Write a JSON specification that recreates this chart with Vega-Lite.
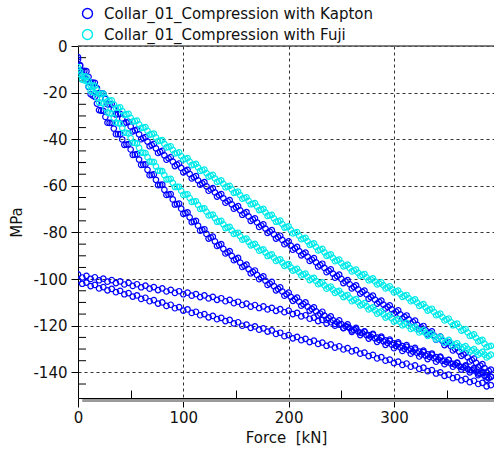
{
  "$schema": "https://vega.github.io/schema/vega-lite/v6.json",
  "width": 416,
  "height": 352,
  "autosize": {"type": "none"},
  "padding": {"left": 78, "top": 46, "right": 0, "bottom": 51},
  "background": "white",
  "config": {"view": {"stroke": null}, "font": "DejaVu Sans"},
  "datasets": {
    "kapton": [
      {"f":0,"p":-5.8},{"f":4,"p":-10.7},{"f":8,"p":-10.8},{"f":12,"p":-15.7},{"f":16,"p":-15.8},{"f":20,"p":-20.5},{"f":24,"p":-20.4},{"f":28,"p":-25.1},{"f":32,"p":-24.9},{"f":36,"p":-29.4},{"f":40,"p":-29.1},{"f":44,"p":-33.2},{"f":48,"p":-32.5},{"f":52,"p":-36.6},{"f":56,"p":-35.9},{"f":60,"p":-40.0},{"f":64,"p":-39.1},{"f":68,"p":-43.0},{"f":72,"p":-42.0},{"f":76,"p":-45.9},{"f":80,"p":-45.0},{"f":84,"p":-48.8},{"f":88,"p":-47.7},{"f":92,"p":-51.5},{"f":96,"p":-50.4},{"f":100,"p":-54.2},{"f":104,"p":-53.1},{"f":108,"p":-56.8},{"f":112,"p":-55.8},{"f":116,"p":-59.5},{"f":120,"p":-58.4},{"f":124,"p":-62.1},{"f":128,"p":-61.0},{"f":132,"p":-64.6},{"f":136,"p":-63.5},{"f":140,"p":-67.2},{"f":144,"p":-66.1},{"f":148,"p":-69.8},{"f":152,"p":-68.7},{"f":156,"p":-72.4},{"f":160,"p":-71.3},{"f":164,"p":-75.0},{"f":168,"p":-73.9},{"f":172,"p":-77.6},{"f":176,"p":-76.5},{"f":180,"p":-80.2},{"f":184,"p":-79.0},{"f":188,"p":-82.6},{"f":192,"p":-81.4},{"f":196,"p":-85.0},{"f":200,"p":-83.8},{"f":204,"p":-87.4},{"f":208,"p":-86.2},{"f":212,"p":-89.8},{"f":216,"p":-88.6},{"f":220,"p":-92.2},{"f":224,"p":-91.0},{"f":228,"p":-94.6},{"f":232,"p":-93.4},{"f":236,"p":-97.0},{"f":240,"p":-95.8},{"f":244,"p":-99.4},{"f":248,"p":-98.1},{"f":252,"p":-101.7},{"f":256,"p":-100.4},{"f":260,"p":-104.0},{"f":264,"p":-102.7},{"f":268,"p":-106.2},{"f":272,"p":-104.9},{"f":276,"p":-108.4},{"f":280,"p":-107.1},{"f":284,"p":-110.5},{"f":288,"p":-109.2},{"f":292,"p":-112.6},{"f":296,"p":-111.3},{"f":300,"p":-114.7},{"f":304,"p":-113.4},{"f":308,"p":-116.9},{"f":312,"p":-115.6},{"f":316,"p":-119.1},{"f":320,"p":-117.8},{"f":324,"p":-121.4},{"f":328,"p":-120.1},{"f":332,"p":-123.7},{"f":336,"p":-122.4},{"f":340,"p":-126.0},{"f":344,"p":-124.7},{"f":348,"p":-128.3},{"f":352,"p":-127.0},{"f":356,"p":-130.6},{"f":360,"p":-129.3},{"f":364,"p":-132.9},{"f":368,"p":-131.7},{"f":372,"p":-135.3},{"f":376,"p":-134.1},{"f":380,"p":-137.7},{"f":384,"p":-136.5},{"f":388,"p":-140.0},{"f":392,"p":-138.8},
      {"f":2,"p":-8.2},{"f":6,"p":-10.7},{"f":10,"p":-13.2},{"f":14,"p":-15.7},{"f":18,"p":-18.1},{"f":22,"p":-20.4},{"f":26,"p":-22.7},{"f":30,"p":-25.0},{"f":34,"p":-27.1},{"f":38,"p":-29.2},{"f":42,"p":-31.1},{"f":46,"p":-32.8},{"f":50,"p":-34.5},{"f":54,"p":-36.2},{"f":58,"p":-37.9},{"f":62,"p":-39.5},{"f":66,"p":-41.0},{"f":70,"p":-42.5},{"f":74,"p":-43.9},{"f":78,"p":-45.4},{"f":82,"p":-46.9},{"f":86,"p":-48.2},{"f":90,"p":-49.6},{"f":94,"p":-50.9},{"f":98,"p":-52.3},{"f":102,"p":-53.6},{"f":106,"p":-54.9},{"f":110,"p":-56.3},{"f":114,"p":-57.6},{"f":118,"p":-58.9},{"f":122,"p":-60.2},{"f":126,"p":-61.5},{"f":130,"p":-62.8},{"f":134,"p":-64.0},{"f":138,"p":-65.3},{"f":142,"p":-66.6},{"f":146,"p":-67.9},{"f":150,"p":-69.2},{"f":154,"p":-70.5},{"f":158,"p":-71.8},{"f":162,"p":-73.1},{"f":166,"p":-74.4},{"f":170,"p":-75.7},{"f":174,"p":-77.0},{"f":178,"p":-78.3},{"f":182,"p":-79.6},{"f":186,"p":-80.8},{"f":190,"p":-82.0},{"f":194,"p":-83.2},{"f":198,"p":-84.4},{"f":202,"p":-85.6},{"f":206,"p":-86.8},{"f":210,"p":-88.0},{"f":214,"p":-89.2},{"f":218,"p":-90.4},{"f":222,"p":-91.6},{"f":226,"p":-92.8},{"f":230,"p":-94.0},{"f":234,"p":-95.2},{"f":238,"p":-96.4},{"f":242,"p":-97.6},{"f":246,"p":-98.7},{"f":250,"p":-99.9},{"f":254,"p":-101.0},{"f":258,"p":-102.2},{"f":262,"p":-103.3},{"f":266,"p":-104.4},{"f":270,"p":-105.5},{"f":274,"p":-106.6},{"f":278,"p":-107.7},{"f":282,"p":-108.8},{"f":286,"p":-109.8},{"f":290,"p":-110.9},{"f":294,"p":-111.9},{"f":298,"p":-113.0},{"f":302,"p":-114.0},{"f":306,"p":-115.1},{"f":310,"p":-116.2},{"f":314,"p":-117.3},{"f":318,"p":-118.4},{"f":322,"p":-119.6},{"f":326,"p":-120.7},{"f":330,"p":-121.9},{"f":334,"p":-123.0},{"f":338,"p":-124.2},{"f":342,"p":-125.3},{"f":346,"p":-126.5},{"f":350,"p":-127.6},{"f":354,"p":-128.8},{"f":358,"p":-129.9},{"f":362,"p":-131.1},{"f":366,"p":-132.3},{"f":370,"p":-133.5},{"f":374,"p":-134.7},{"f":378,"p":-135.9},{"f":382,"p":-137.1},{"f":386,"p":-138.2},{"f":390,"p":-139.4},
      {"f":0,"p":-4.8},{"f":4,"p":-12.2},{"f":8,"p":-14.3},{"f":12,"p":-20.7},{"f":16,"p":-21.8},{"f":20,"p":-27.5},{"f":24,"p":-27.8},{"f":28,"p":-32.9},{"f":32,"p":-33.0},{"f":36,"p":-37.8},{"f":40,"p":-37.8},{"f":44,"p":-42.4},{"f":48,"p":-42.1},{"f":52,"p":-46.7},{"f":56,"p":-46.4},{"f":60,"p":-51.0},{"f":64,"p":-50.8},{"f":68,"p":-55.4},{"f":72,"p":-55.1},{"f":76,"p":-59.7},{"f":80,"p":-59.5},{"f":84,"p":-63.9},{"f":88,"p":-63.5},{"f":92,"p":-68.0},{"f":96,"p":-67.6},{"f":100,"p":-72.0},{"f":104,"p":-71.4},{"f":108,"p":-75.6},{"f":112,"p":-75.0},{"f":116,"p":-79.2},{"f":120,"p":-78.6},{"f":124,"p":-82.6},{"f":128,"p":-81.8},{"f":132,"p":-85.8},{"f":136,"p":-85.0},{"f":140,"p":-89.0},{"f":144,"p":-88.0},{"f":148,"p":-91.9},{"f":152,"p":-90.9},{"f":156,"p":-94.8},{"f":160,"p":-93.8},{"f":164,"p":-97.5},{"f":168,"p":-96.3},{"f":172,"p":-100.0},{"f":176,"p":-98.8},{"f":180,"p":-102.5},{"f":184,"p":-101.2},{"f":188,"p":-104.8},{"f":192,"p":-103.5},{"f":196,"p":-107.1},{"f":200,"p":-105.8},{"f":204,"p":-109.3},{"f":208,"p":-107.9},{"f":212,"p":-111.4},{"f":216,"p":-110.0},{"f":220,"p":-113.5},{"f":224,"p":-112.1},{"f":228,"p":-115.5},{"f":232,"p":-114.0},{"f":236,"p":-117.4},{"f":240,"p":-116.0},{"f":244,"p":-119.2},{"f":248,"p":-117.7},{"f":252,"p":-120.9},{"f":256,"p":-119.4},{"f":260,"p":-122.6},{"f":264,"p":-120.9},{"f":268,"p":-124.0},{"f":272,"p":-122.4},{"f":276,"p":-125.5},{"f":280,"p":-123.8},{"f":284,"p":-126.9},{"f":288,"p":-125.2},{"f":292,"p":-128.2},{"f":296,"p":-126.5},{"f":300,"p":-129.6},{"f":304,"p":-127.8},{"f":308,"p":-130.8},{"f":312,"p":-129.0},{"f":316,"p":-132.0},{"f":320,"p":-130.2},{"f":324,"p":-133.2},{"f":328,"p":-131.3},{"f":332,"p":-134.3},{"f":336,"p":-132.4},{"f":340,"p":-135.4},{"f":344,"p":-133.6},{"f":348,"p":-136.5},{"f":352,"p":-134.7},{"f":356,"p":-137.6},{"f":360,"p":-135.8},{"f":364,"p":-138.8},{"f":368,"p":-137.0},{"f":372,"p":-140.0},{"f":376,"p":-138.2},{"f":380,"p":-141.2},{"f":384,"p":-139.8},{"f":388,"p":-143.2},{"f":392,"p":-141.8},
      {"f":2,"p":-8.5},{"f":6,"p":-13.3},{"f":10,"p":-17.5},{"f":14,"p":-21.3},{"f":18,"p":-24.7},{"f":22,"p":-27.7},{"f":26,"p":-30.4},{"f":30,"p":-33.0},{"f":34,"p":-35.4},{"f":38,"p":-37.8},{"f":42,"p":-40.1},{"f":46,"p":-42.3},{"f":50,"p":-44.4},{"f":54,"p":-46.6},{"f":58,"p":-48.7},{"f":62,"p":-50.9},{"f":66,"p":-53.1},{"f":70,"p":-55.3},{"f":74,"p":-57.4},{"f":78,"p":-59.6},{"f":82,"p":-61.7},{"f":86,"p":-63.7},{"f":90,"p":-65.8},{"f":94,"p":-67.8},{"f":98,"p":-69.8},{"f":102,"p":-71.7},{"f":106,"p":-73.5},{"f":110,"p":-75.3},{"f":114,"p":-77.1},{"f":118,"p":-78.9},{"f":122,"p":-80.6},{"f":126,"p":-82.2},{"f":130,"p":-83.8},{"f":134,"p":-85.4},{"f":138,"p":-87.0},{"f":142,"p":-88.5},{"f":146,"p":-90.0},{"f":150,"p":-91.4},{"f":154,"p":-92.9},{"f":158,"p":-94.3},{"f":162,"p":-95.7},{"f":166,"p":-96.9},{"f":170,"p":-98.2},{"f":174,"p":-99.4},{"f":178,"p":-100.7},{"f":182,"p":-101.9},{"f":186,"p":-103.0},{"f":190,"p":-104.2},{"f":194,"p":-105.3},{"f":198,"p":-106.5},{"f":202,"p":-107.6},{"f":206,"p":-108.6},{"f":210,"p":-109.7},{"f":214,"p":-110.7},{"f":218,"p":-111.8},{"f":222,"p":-112.8},{"f":226,"p":-113.8},{"f":230,"p":-114.8},{"f":234,"p":-115.7},{"f":238,"p":-116.7},{"f":242,"p":-117.6},{"f":246,"p":-118.5},{"f":250,"p":-119.3},{"f":254,"p":-120.2},{"f":258,"p":-121.0},{"f":262,"p":-121.8},{"f":266,"p":-122.5},{"f":270,"p":-123.2},{"f":274,"p":-124.0},{"f":278,"p":-124.7},{"f":282,"p":-125.4},{"f":286,"p":-126.1},{"f":290,"p":-126.7},{"f":294,"p":-127.4},{"f":298,"p":-128.1},{"f":302,"p":-128.7},{"f":306,"p":-129.3},{"f":310,"p":-129.9},{"f":314,"p":-130.5},{"f":318,"p":-131.1},{"f":322,"p":-131.7},{"f":326,"p":-132.3},{"f":330,"p":-132.8},{"f":334,"p":-133.4},{"f":338,"p":-133.9},{"f":342,"p":-134.5},{"f":346,"p":-135.1},{"f":350,"p":-135.6},{"f":354,"p":-136.2},{"f":358,"p":-136.7},{"f":362,"p":-137.3},{"f":366,"p":-137.9},{"f":370,"p":-138.5},{"f":374,"p":-139.1},{"f":378,"p":-139.7},{"f":382,"p":-140.5},{"f":386,"p":-141.5},{"f":390,"p":-142.5},
      {"f":0,"p":-98.0},{"f":4,"p":-99.3},{"f":8,"p":-98.6},{"f":12,"p":-99.9},{"f":16,"p":-99.2},{"f":20,"p":-100.5},{"f":24,"p":-99.8},{"f":28,"p":-101.1},{"f":32,"p":-100.4},{"f":36,"p":-101.7},{"f":40,"p":-101.0},{"f":44,"p":-102.3},{"f":48,"p":-101.6},{"f":52,"p":-102.9},{"f":56,"p":-102.2},{"f":60,"p":-103.5},{"f":64,"p":-102.8},{"f":68,"p":-104.1},{"f":72,"p":-103.4},{"f":76,"p":-104.7},{"f":80,"p":-104.0},{"f":84,"p":-105.3},{"f":88,"p":-104.6},{"f":92,"p":-105.9},{"f":96,"p":-105.2},{"f":100,"p":-106.5},{"f":104,"p":-105.8},{"f":108,"p":-107.1},{"f":112,"p":-106.4},{"f":116,"p":-107.7},{"f":120,"p":-107.0},{"f":124,"p":-108.3},{"f":128,"p":-107.6},{"f":132,"p":-108.9},{"f":136,"p":-108.2},{"f":140,"p":-109.5},{"f":144,"p":-108.9},{"f":148,"p":-110.3},{"f":152,"p":-109.7},{"f":156,"p":-111.1},{"f":160,"p":-110.5},{"f":164,"p":-111.8},{"f":168,"p":-111.1},{"f":172,"p":-112.4},{"f":176,"p":-111.7},{"f":180,"p":-113.0},{"f":184,"p":-112.3},{"f":188,"p":-113.6},{"f":192,"p":-112.9},{"f":196,"p":-114.2},{"f":200,"p":-113.5},{"f":204,"p":-115.0},{"f":208,"p":-114.5},{"f":212,"p":-116.0},{"f":216,"p":-115.5},{"f":220,"p":-117.0},{"f":224,"p":-116.5},{"f":228,"p":-118.0},{"f":232,"p":-117.5},{"f":236,"p":-119.0},{"f":240,"p":-118.5},{"f":244,"p":-120.0},{"f":248,"p":-119.5},{"f":252,"p":-121.0},{"f":256,"p":-120.5},{"f":260,"p":-122.0},{"f":264,"p":-121.5},{"f":268,"p":-123.0},{"f":272,"p":-122.5},{"f":276,"p":-124.0},{"f":280,"p":-123.5},{"f":284,"p":-125.1},{"f":288,"p":-124.7},{"f":292,"p":-126.3},{"f":296,"p":-125.9},{"f":300,"p":-127.5},{"f":304,"p":-127.1},{"f":308,"p":-128.7},{"f":312,"p":-128.3},{"f":316,"p":-129.9},{"f":320,"p":-129.5},{"f":324,"p":-131.1},{"f":328,"p":-130.7},{"f":332,"p":-132.3},{"f":336,"p":-131.9},{"f":340,"p":-133.5},{"f":344,"p":-133.2},{"f":348,"p":-134.9},{"f":352,"p":-134.6},{"f":356,"p":-136.3},{"f":360,"p":-136.0},{"f":364,"p":-137.7},{"f":368,"p":-137.4},{"f":372,"p":-139.1},{"f":376,"p":-138.8},{"f":380,"p":-140.5},{"f":384,"p":-140.3},{"f":388,"p":-142.1},{"f":392,"p":-141.9},
      {"f":0,"p":-100.5},{"f":4,"p":-102.0},{"f":8,"p":-101.5},{"f":12,"p":-103.0},{"f":16,"p":-102.5},{"f":20,"p":-104.0},{"f":24,"p":-103.4},{"f":28,"p":-104.8},{"f":32,"p":-104.2},{"f":36,"p":-105.6},{"f":40,"p":-105.0},{"f":44,"p":-106.5},{"f":48,"p":-106.0},{"f":52,"p":-107.5},{"f":56,"p":-107.0},{"f":60,"p":-108.5},{"f":64,"p":-108.0},{"f":68,"p":-109.5},{"f":72,"p":-109.0},{"f":76,"p":-110.5},{"f":80,"p":-110.0},{"f":84,"p":-111.5},{"f":88,"p":-111.0},{"f":92,"p":-112.5},{"f":96,"p":-112.0},{"f":100,"p":-113.5},{"f":104,"p":-113.0},{"f":108,"p":-114.5},{"f":112,"p":-114.0},{"f":116,"p":-115.5},{"f":120,"p":-115.0},{"f":124,"p":-116.4},{"f":128,"p":-115.8},{"f":132,"p":-117.2},{"f":136,"p":-116.6},{"f":140,"p":-118.0},{"f":144,"p":-117.5},{"f":148,"p":-119.0},{"f":152,"p":-118.5},{"f":156,"p":-120.0},{"f":160,"p":-119.5},{"f":164,"p":-120.9},{"f":168,"p":-120.3},{"f":172,"p":-121.7},{"f":176,"p":-121.1},{"f":180,"p":-122.5},{"f":184,"p":-122.0},{"f":188,"p":-123.5},{"f":192,"p":-123.0},{"f":196,"p":-124.5},{"f":200,"p":-124.0},{"f":204,"p":-125.4},{"f":208,"p":-124.8},{"f":212,"p":-126.2},{"f":216,"p":-125.6},{"f":220,"p":-127.0},{"f":224,"p":-126.4},{"f":228,"p":-127.8},{"f":232,"p":-127.2},{"f":236,"p":-128.6},{"f":240,"p":-128.0},{"f":244,"p":-129.4},{"f":248,"p":-128.8},{"f":252,"p":-130.2},{"f":256,"p":-129.6},{"f":260,"p":-131.0},{"f":264,"p":-130.5},{"f":268,"p":-132.0},{"f":272,"p":-131.5},{"f":276,"p":-133.0},{"f":280,"p":-132.5},{"f":284,"p":-134.0},{"f":288,"p":-133.5},{"f":292,"p":-135.0},{"f":296,"p":-134.5},{"f":300,"p":-136.0},{"f":304,"p":-135.4},{"f":308,"p":-136.8},{"f":312,"p":-136.2},{"f":316,"p":-137.6},{"f":320,"p":-137.0},{"f":324,"p":-138.5},{"f":328,"p":-138.0},{"f":332,"p":-139.5},{"f":336,"p":-139.0},{"f":340,"p":-140.5},{"f":344,"p":-140.0},{"f":348,"p":-141.5},{"f":352,"p":-141.0},{"f":356,"p":-142.5},{"f":360,"p":-142.0},{"f":364,"p":-143.4},{"f":368,"p":-142.8},{"f":372,"p":-144.2},{"f":376,"p":-143.6},{"f":380,"p":-145.0},{"f":384,"p":-144.5},{"f":388,"p":-146.0},{"f":392,"p":-145.5}
    ],
    "fuji": [
      {"f":0,"p":-9.1},{"f":4,"p":-12.9},{"f":8,"p":-13.1},{"f":12,"p":-16.9},{"f":16,"p":-17.1},{"f":20,"p":-20.7},{"f":24,"p":-20.4},{"f":28,"p":-23.7},{"f":32,"p":-23.3},{"f":36,"p":-26.6},{"f":40,"p":-26.3},{"f":44,"p":-29.5},{"f":48,"p":-29.1},{"f":52,"p":-32.4},{"f":56,"p":-32.0},{"f":60,"p":-35.2},{"f":64,"p":-34.8},{"f":68,"p":-38.0},{"f":72,"p":-37.6},{"f":76,"p":-40.8},{"f":80,"p":-40.4},{"f":84,"p":-43.5},{"f":88,"p":-43.0},{"f":92,"p":-46.1},{"f":96,"p":-45.6},{"f":100,"p":-48.7},{"f":104,"p":-48.1},{"f":108,"p":-51.1},{"f":112,"p":-50.6},{"f":116,"p":-53.6},{"f":120,"p":-53.0},{"f":124,"p":-56.0},{"f":128,"p":-55.3},{"f":132,"p":-58.3},{"f":136,"p":-57.6},{"f":140,"p":-60.6},{"f":144,"p":-60.0},{"f":148,"p":-63.0},{"f":152,"p":-62.5},{"f":156,"p":-65.5},{"f":160,"p":-64.9},{"f":164,"p":-67.9},{"f":168,"p":-67.4},{"f":172,"p":-70.4},{"f":176,"p":-69.9},{"f":180,"p":-72.9},{"f":184,"p":-72.4},{"f":188,"p":-75.4},{"f":192,"p":-74.9},{"f":196,"p":-77.9},{"f":200,"p":-77.4},{"f":204,"p":-80.4},{"f":208,"p":-79.8},{"f":212,"p":-82.9},{"f":216,"p":-82.3},{"f":220,"p":-85.3},{"f":224,"p":-84.7},{"f":228,"p":-87.7},{"f":232,"p":-87.0},{"f":236,"p":-90.0},{"f":240,"p":-89.4},{"f":244,"p":-92.3},{"f":248,"p":-91.6},{"f":252,"p":-94.5},{"f":256,"p":-93.8},{"f":260,"p":-96.7},{"f":264,"p":-95.9},{"f":268,"p":-98.6},{"f":272,"p":-97.8},{"f":276,"p":-100.5},{"f":280,"p":-99.7},{"f":284,"p":-102.3},{"f":288,"p":-101.4},{"f":292,"p":-104.0},{"f":296,"p":-103.1},{"f":300,"p":-105.7},{"f":304,"p":-104.9},{"f":308,"p":-107.6},{"f":312,"p":-106.8},{"f":316,"p":-109.5},{"f":320,"p":-108.7},{"f":324,"p":-111.5},{"f":328,"p":-110.7},{"f":332,"p":-113.5},{"f":336,"p":-112.7},{"f":340,"p":-115.5},{"f":344,"p":-114.8},{"f":348,"p":-117.7},{"f":352,"p":-116.9},{"f":356,"p":-119.8},{"f":360,"p":-119.1},{"f":364,"p":-122.1},{"f":368,"p":-121.4},{"f":372,"p":-124.4},{"f":376,"p":-123.7},{"f":380,"p":-126.7},{"f":384,"p":-126.1},{"f":388,"p":-129.2},{"f":392,"p":-128.6},
      {"f":2,"p":-11.0},{"f":6,"p":-13.0},{"f":10,"p":-15.0},{"f":14,"p":-17.0},{"f":18,"p":-18.9},{"f":22,"p":-20.6},{"f":26,"p":-22.1},{"f":30,"p":-23.5},{"f":34,"p":-25.0},{"f":38,"p":-26.5},{"f":42,"p":-27.9},{"f":46,"p":-29.3},{"f":50,"p":-30.8},{"f":54,"p":-32.2},{"f":58,"p":-33.6},{"f":62,"p":-35.0},{"f":66,"p":-36.4},{"f":70,"p":-37.8},{"f":74,"p":-39.2},{"f":78,"p":-40.6},{"f":82,"p":-42.0},{"f":86,"p":-43.3},{"f":90,"p":-44.6},{"f":94,"p":-45.9},{"f":98,"p":-47.2},{"f":102,"p":-48.4},{"f":106,"p":-49.6},{"f":110,"p":-50.9},{"f":114,"p":-52.1},{"f":118,"p":-53.3},{"f":122,"p":-54.5},{"f":126,"p":-55.7},{"f":130,"p":-56.8},{"f":134,"p":-58.0},{"f":138,"p":-59.1},{"f":142,"p":-60.3},{"f":146,"p":-61.5},{"f":150,"p":-62.8},{"f":154,"p":-64.0},{"f":158,"p":-65.2},{"f":162,"p":-66.4},{"f":166,"p":-67.7},{"f":170,"p":-68.9},{"f":174,"p":-70.2},{"f":178,"p":-71.4},{"f":182,"p":-72.7},{"f":186,"p":-73.9},{"f":190,"p":-75.2},{"f":194,"p":-76.4},{"f":198,"p":-77.7},{"f":202,"p":-78.9},{"f":206,"p":-80.1},{"f":210,"p":-81.4},{"f":214,"p":-82.6},{"f":218,"p":-83.8},{"f":222,"p":-85.0},{"f":226,"p":-86.2},{"f":230,"p":-87.4},{"f":234,"p":-88.5},{"f":238,"p":-89.7},{"f":242,"p":-90.9},{"f":246,"p":-92.0},{"f":250,"p":-93.1},{"f":254,"p":-94.2},{"f":258,"p":-95.3},{"f":262,"p":-96.3},{"f":266,"p":-97.3},{"f":270,"p":-98.2},{"f":274,"p":-99.2},{"f":278,"p":-100.1},{"f":282,"p":-101.0},{"f":286,"p":-101.9},{"f":290,"p":-102.7},{"f":294,"p":-103.6},{"f":298,"p":-104.4},{"f":302,"p":-105.3},{"f":306,"p":-106.3},{"f":310,"p":-107.2},{"f":314,"p":-108.2},{"f":318,"p":-109.1},{"f":322,"p":-110.1},{"f":326,"p":-111.1},{"f":330,"p":-112.1},{"f":334,"p":-113.1},{"f":338,"p":-114.1},{"f":342,"p":-115.2},{"f":346,"p":-116.3},{"f":350,"p":-117.3},{"f":354,"p":-118.4},{"f":358,"p":-119.5},{"f":362,"p":-120.6},{"f":366,"p":-121.8},{"f":370,"p":-122.9},{"f":374,"p":-124.1},{"f":378,"p":-125.2},{"f":382,"p":-126.4},{"f":386,"p":-127.7},{"f":390,"p":-128.9},
      {"f":0,"p":-10.1},{"f":4,"p":-14.4},{"f":8,"p":-15.1},{"f":12,"p":-19.4},{"f":16,"p":-20.1},{"f":20,"p":-24.2},{"f":24,"p":-24.6},{"f":28,"p":-28.6},{"f":32,"p":-29.0},{"f":36,"p":-32.9},{"f":40,"p":-33.3},{"f":44,"p":-37.2},{"f":48,"p":-37.5},{"f":52,"p":-41.5},{"f":56,"p":-41.8},{"f":60,"p":-45.7},{"f":64,"p":-45.9},{"f":68,"p":-49.6},{"f":72,"p":-49.8},{"f":76,"p":-53.5},{"f":80,"p":-53.7},{"f":84,"p":-57.2},{"f":88,"p":-57.0},{"f":92,"p":-60.5},{"f":96,"p":-60.4},{"f":100,"p":-63.9},{"f":104,"p":-63.6},{"f":108,"p":-66.9},{"f":112,"p":-66.6},{"f":116,"p":-69.9},{"f":120,"p":-69.6},{"f":124,"p":-72.7},{"f":128,"p":-72.3},{"f":132,"p":-75.4},{"f":136,"p":-75.0},{"f":140,"p":-78.1},{"f":144,"p":-77.6},{"f":148,"p":-80.6},{"f":152,"p":-80.1},{"f":156,"p":-83.1},{"f":160,"p":-82.6},{"f":164,"p":-85.5},{"f":168,"p":-84.9},{"f":172,"p":-87.8},{"f":176,"p":-87.2},{"f":180,"p":-90.1},{"f":184,"p":-89.4},{"f":188,"p":-92.2},{"f":192,"p":-91.5},{"f":196,"p":-94.3},{"f":200,"p":-93.6},{"f":204,"p":-96.4},{"f":208,"p":-95.6},{"f":212,"p":-98.4},{"f":216,"p":-97.6},{"f":220,"p":-100.4},{"f":224,"p":-99.5},{"f":228,"p":-102.2},{"f":232,"p":-101.4},{"f":236,"p":-104.1},{"f":240,"p":-103.2},{"f":244,"p":-105.9},{"f":248,"p":-105.0},{"f":252,"p":-107.7},{"f":256,"p":-106.8},{"f":260,"p":-109.5},{"f":264,"p":-108.6},{"f":268,"p":-111.3},{"f":272,"p":-110.3},{"f":276,"p":-113.0},{"f":280,"p":-112.1},{"f":284,"p":-114.8},{"f":288,"p":-113.8},{"f":292,"p":-116.5},{"f":296,"p":-115.5},{"f":300,"p":-118.2},{"f":304,"p":-117.2},{"f":308,"p":-119.8},{"f":312,"p":-118.8},{"f":316,"p":-121.4},{"f":320,"p":-120.4},{"f":324,"p":-122.9},{"f":328,"p":-121.9},{"f":332,"p":-124.4},{"f":336,"p":-123.4},{"f":340,"p":-125.9},{"f":344,"p":-124.8},{"f":348,"p":-127.3},{"f":352,"p":-126.1},{"f":356,"p":-128.6},{"f":360,"p":-127.5},{"f":364,"p":-129.9},{"f":368,"p":-128.7},{"f":372,"p":-131.2},{"f":376,"p":-130.0},{"f":380,"p":-132.4},{"f":384,"p":-131.2},{"f":388,"p":-133.6},{"f":392,"p":-132.4},
      {"f":2,"p":-12.2},{"f":6,"p":-14.7},{"f":10,"p":-17.2},{"f":14,"p":-19.7},{"f":18,"p":-22.1},{"f":22,"p":-24.4},{"f":26,"p":-26.6},{"f":30,"p":-28.8},{"f":34,"p":-30.9},{"f":38,"p":-33.1},{"f":42,"p":-35.2},{"f":46,"p":-37.3},{"f":50,"p":-39.5},{"f":54,"p":-41.6},{"f":58,"p":-43.7},{"f":62,"p":-45.8},{"f":66,"p":-47.7},{"f":70,"p":-49.7},{"f":74,"p":-51.6},{"f":78,"p":-53.6},{"f":82,"p":-55.4},{"f":86,"p":-57.1},{"f":90,"p":-58.7},{"f":94,"p":-60.4},{"f":98,"p":-62.1},{"f":102,"p":-63.7},{"f":106,"p":-65.2},{"f":110,"p":-66.7},{"f":114,"p":-68.2},{"f":118,"p":-69.7},{"f":122,"p":-71.1},{"f":126,"p":-72.5},{"f":130,"p":-73.8},{"f":134,"p":-75.2},{"f":138,"p":-76.5},{"f":142,"p":-77.8},{"f":146,"p":-79.1},{"f":150,"p":-80.3},{"f":154,"p":-81.6},{"f":158,"p":-82.8},{"f":162,"p":-84.0},{"f":166,"p":-85.2},{"f":170,"p":-86.3},{"f":174,"p":-87.5},{"f":178,"p":-88.6},{"f":182,"p":-89.7},{"f":186,"p":-90.8},{"f":190,"p":-91.8},{"f":194,"p":-92.9},{"f":198,"p":-93.9},{"f":202,"p":-95.0},{"f":206,"p":-96.0},{"f":210,"p":-97.0},{"f":214,"p":-98.0},{"f":218,"p":-99.0},{"f":222,"p":-99.9},{"f":226,"p":-100.8},{"f":230,"p":-101.8},{"f":234,"p":-102.7},{"f":238,"p":-103.6},{"f":242,"p":-104.5},{"f":246,"p":-105.4},{"f":250,"p":-106.3},{"f":254,"p":-107.2},{"f":258,"p":-108.1},{"f":262,"p":-109.0},{"f":266,"p":-109.9},{"f":270,"p":-110.8},{"f":274,"p":-111.6},{"f":278,"p":-112.5},{"f":282,"p":-113.4},{"f":286,"p":-114.3},{"f":290,"p":-115.1},{"f":294,"p":-116.0},{"f":298,"p":-116.8},{"f":302,"p":-117.7},{"f":306,"p":-118.5},{"f":310,"p":-119.3},{"f":314,"p":-120.1},{"f":318,"p":-120.9},{"f":322,"p":-121.6},{"f":326,"p":-122.4},{"f":330,"p":-123.1},{"f":334,"p":-123.9},{"f":338,"p":-124.6},{"f":342,"p":-125.3},{"f":346,"p":-126.0},{"f":350,"p":-126.7},{"f":354,"p":-127.3},{"f":358,"p":-128.0},{"f":362,"p":-128.7},{"f":366,"p":-129.3},{"f":370,"p":-129.9},{"f":374,"p":-130.6},{"f":378,"p":-131.2},{"f":382,"p":-131.8},{"f":386,"p":-132.4},{"f":390,"p":-133.0}
    ],
    "yminor": [
      {"v":-5},{"v":-10},{"v":-15},{"v":-25},{"v":-30},{"v":-35},{"v":-45},{"v":-50},{"v":-55},{"v":-65},{"v":-70},{"v":-75},{"v":-85},{"v":-90},{"v":-95},{"v":-105},{"v":-110},{"v":-115},{"v":-125},{"v":-130},{"v":-135},{"v":-145}
    ]
  },
  "layer": [
    {
      "data": {"values": [{}]},
      "mark": {"type": "rule", "color": "#555555", "strokeWidth": 1.5},
      "encoding": {
        "y": {"datum": 0, "type": "quantitative", "scale": {"domain": [-151, 0], "nice": false, "zero": false}}
      }
    },
    {
      "data": {"values": [{}]},
      "mark": {"type": "rule", "color": "#9a9a9a", "strokeWidth": 3, "yOffset": 2.5},
      "encoding": {
        "x": {"datum": 4, "type": "quantitative", "scale": {"domain": [0, 395], "nice": false, "zero": false}},
        "x2": {"datum": 395},
        "y": {"datum": -151, "type": "quantitative", "scale": {"domain": [-151, 0], "nice": false, "zero": false}}
      }
    },
    {
      "data": {"name": "yminor"},
      "mark": {"type": "tick", "orient": "horizontal", "size": 8, "thickness": 1, "xOffset": 4, "color": "#000000", "opacity": 1},
      "encoding": {
        "x": {"datum": 0, "type": "quantitative", "scale": {"domain": [0, 395], "nice": false, "zero": false}},
        "y": {"field": "v", "type": "quantitative", "scale": {"domain": [-151, 0], "nice": false, "zero": false}}
      }
    },
    {
      "data": {"name": "kapton"},
      "mark": {"type": "point", "filled": false, "size": 30, "strokeWidth": 1.2, "opacity": 1, "clip": true},
      "encoding": {
        "x": {
          "field": "f", "type": "quantitative",
          "scale": {"domain": [0, 395], "nice": false, "zero": false},
          "axis": {
            "title": "Force \u00a0[kN]",
            "values": [0, 50, 100, 150, 200, 250, 300, 350],
            "labelExpr": "datum.value % 100 === 0 ? '' + datum.value : ''",
            "labelFlush": false,
            "labelOverlap": false,
            "labelFont": "DejaVu Sans",
            "labelFontSize": 15,
            "labelColor": "#111111",
            "labelPadding": 3,
            "tickSize": {"condition": {"test": "datum.value % 100 === 0", "value": 9}, "value": -8},
            "tickColor": "#000000",
            "domainColor": "#000000",
            "grid": true,
            "gridColor": "#333333",
            "gridDash": [3, 3],
            "gridOpacity": {"condition": {"test": "datum.value % 100 === 0 && datum.value !== 0", "value": 1}, "value": 0},
            "titleFont": "DejaVu Sans",
            "titleFontSize": 15,
            "titleFontWeight": "normal",
            "titleColor": "#111111",
            "titlePadding": 5
          }
        },
        "y": {
          "field": "p", "type": "quantitative",
          "scale": {"domain": [-151, 0], "nice": false, "zero": false},
          "axis": {
            "title": "MPa",
            "values": [0, -20, -40, -60, -80, -100, -120, -140],
            "labelExpr": "'' + datum.value",
            "labelOverlap": false,
            "labelFont": "DejaVu Sans",
            "labelFontSize": 15,
            "labelColor": "#111111",
            "labelPadding": 4,
            "tickSize": 7,
            "tickColor": "#000000",
            "domainColor": "#000000",
            "grid": true,
            "gridColor": "#333333",
            "gridDash": [3, 3],
            "titleFont": "DejaVu Sans",
            "titleFontSize": 15,
            "titleFontWeight": "normal",
            "titleColor": "#111111",
            "titlePadding": 8
          }
        },
        "color": {
          "datum": "Collar_01_Compression with Kapton",
          "type": "nominal",
          "scale": {
            "domain": ["Collar_01_Compression with Kapton", "Collar_01_Compression with Fuji"],
            "range": ["#0000ff", "#00eaea"]
          },
          "legend": {
            "orient": "none",
            "legendX": 2,
            "legendY": -40,
            "title": null,
            "padding": 0,
            "labelFont": "DejaVu Sans",
            "labelFontSize": 15,
            "labelColor": "#111111",
            "labelLimit": 0,
            "labelOffset": 9,
            "symbolType": "circle",
            "symbolSize": 100,
            "symbolStrokeWidth": 1.4,
            "rowPadding": 4
          }
        }
      }
    },
    {
      "data": {"name": "fuji"},
      "mark": {"type": "point", "filled": false, "size": 30, "strokeWidth": 1.2, "opacity": 1, "clip": true},
      "encoding": {
        "x": {"field": "f", "type": "quantitative", "scale": {"domain": [0, 395], "nice": false, "zero": false}},
        "y": {"field": "p", "type": "quantitative", "scale": {"domain": [-151, 0], "nice": false, "zero": false}},
        "color": {"datum": "Collar_01_Compression with Fuji", "type": "nominal"}
      }
    }
  ]
}
